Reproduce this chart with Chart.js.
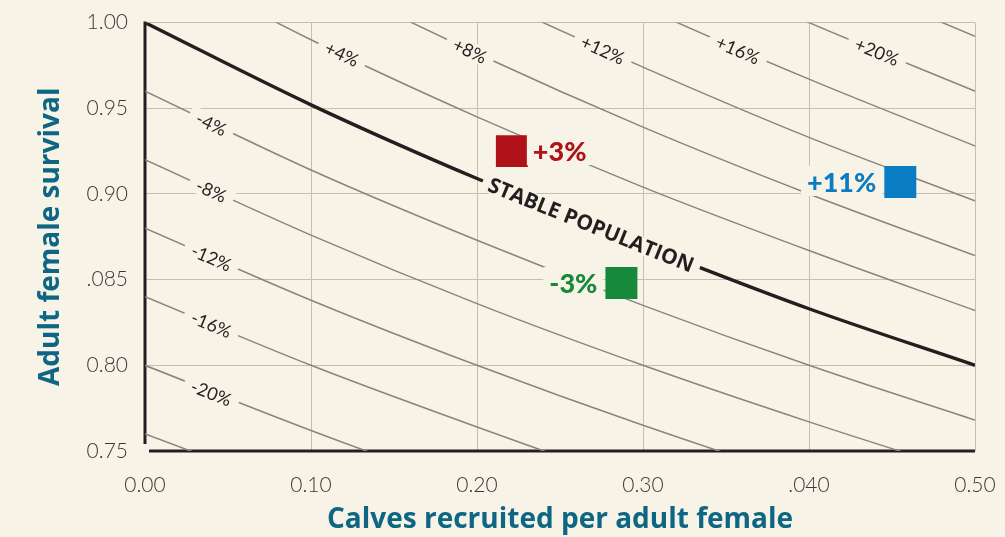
<!DOCTYPE html>
<html><head><meta charset="utf-8">
<script src="https://cdn.jsdelivr.net/npm/chart.js@4.4.0/dist/chart.umd.min.js"></script>
<style>html,body{margin:0;padding:0;background:#f8f3e7;}#wrap{width:1005px;height:537px;position:relative;}</style>
</head><body><div id="wrap"><canvas id="c" width="1005" height="537"></canvas></div>
<script>
// ---- data ----
const recruitment = [0, 0.1, 0.2, 0.3, 0.4, 0.5];
const xTickLabels = ['0.00', '0.10', '0.20', '0.30', '.040', '0.50'];
const yTickLabels = ['0.75', '0.80', '.085', '0.90', '0.95', '1.00'];

const stableSurvival = [1.000, 0.952, 0.909, 0.870, 0.833, 0.800];

const growthMinus24 = [0.760, 0.724, 0.691, 0.661, 0.633, 0.608];
const growthMinus20 = [0.800, 0.762, 0.727, 0.696, 0.667, 0.640];
const growthMinus16 = [0.840, 0.800, 0.764, 0.730, 0.700, 0.672];
const growthMinus12 = [0.880, 0.838, 0.800, 0.765, 0.733, 0.704];
const growthMinus8  = [0.920, 0.876, 0.836, 0.800, 0.767, 0.736];
const growthMinus4  = [0.960, 0.914, 0.873, 0.835, 0.800, 0.768];
const growthPlus4   = [1.040, 0.990, 0.945, 0.904, 0.867, 0.832];
const growthPlus8   = [1.080, 1.029, 0.982, 0.939, 0.900, 0.864];
const growthPlus12  = [1.120, 1.067, 1.018, 0.974, 0.933, 0.896];
const growthPlus16  = [1.160, 1.105, 1.055, 1.009, 0.967, 0.928];
const growthPlus20  = [1.200, 1.143, 1.091, 1.043, 1.000, 0.960];
const growthPlus24  = [1.240, 1.181, 1.127, 1.078, 1.033, 0.992];

const contourNames = ['-24%', '-20%', '-16%', '-12%', '-8%', '-4%', '+4%', '+8%', '+12%', '+16%', '+20%', '+24%'];
const contourValues = [growthMinus24, growthMinus20, growthMinus16, growthMinus12, growthMinus8, growthMinus4,
  growthPlus4, growthPlus8, growthPlus12, growthPlus16, growthPlus20, growthPlus24];

const contourLabelText = ['-4%', '-8%', '-12%', '-16%', '-20%', '+4%', '+8%', '+12%', '+16%', '+20%'];
const contourLabelR = [0.040, 0.040, 0.040, 0.040, 0.040, 0.1187, 0.1958, 0.2759, 0.3572, 0.441];
const contourLabelS = [0.941, 0.902, 0.863, 0.824, 0.784, 0.9818, 0.9837, 0.9842, 0.9842, 0.9832];

const stableLabelText = 'STABLE POPULATION';
const stableLabelR = 0.2687;
const stableLabelS = 0.8818;

const herdText = ['+3%', '-3%', '+11%'];
const herdR = [0.221, 0.287, 0.455];
const herdS = [0.925, 0.848, 0.907];
const herdColors = ['#b0121a', '#168a3a', '#0a7cc4'];
const herdLabelSide = ['right', 'left', 'left'];

// ---- chart ----
const BG = '#f8f3e7';
const INK = '#231f20';
const GRID = '#c3bfb2';
const toPts = arr => recruitment.map((r, i) => ({x: r, y: arr[i]}));

const datasets = [];
contourValues.forEach((vals, i) => {
  datasets.push({
    label: contourNames[i], data: toPts(vals), showLine: true,
    borderColor: '#878580', borderWidth: 1.5, pointRadius: 0,
    cubicInterpolationMode: 'monotone', order: 3
  });
});
datasets.push({
  label: 'stable', data: toPts(stableSurvival), showLine: true,
  borderColor: INK, borderWidth: 3.4, pointRadius: 0,
  cubicInterpolationMode: 'monotone', order: 2
});
datasets.push({
  label: 'herds', data: herdR.map((r, i) => ({x: r, y: herdS[i]})), showLine: false,
  pointStyle: 'rect', pointRadius: 22.6, pointHoverRadius: 22.6,
  backgroundColor: herdColors, borderWidth: 0, order: 1
});

function drawAlong(ctx, chart, dsLabel, R, S, text, font, pad, color) {
  const xs = chart.scales.x, ys = chart.scales.y;
  const px = xs.getPixelForValue(R), py = ys.getPixelForValue(S);
  const idx = chart.data.datasets.findIndex(d => d.label === dsLabel);
  const pts = chart.getDatasetMeta(idx).data;
  let a = 0;
  for (let i = 0; i < pts.length - 1; i++) {
    if (pts[i].x <= px && pts[i + 1].x >= px) {
      a = Math.atan2(pts[i + 1].y - pts[i].y, pts[i + 1].x - pts[i].x);
      break;
    }
  }
  ctx.save();
  ctx.translate(px, py);
  ctx.rotate(a);
  ctx.font = font;
  const w = ctx.measureText(text).width;
  ctx.fillStyle = BG;
  ctx.fillRect(-w / 2 - pad, -9, w + 2 * pad, 18);
  ctx.fillStyle = color;
  ctx.textAlign = 'center';
  ctx.textBaseline = 'middle';
  ctx.fillText(text, 0, 1);
  ctx.restore();
}

const noPad = s => { s.paddingTop = 0; s.paddingBottom = 0; s.paddingLeft = 0; s.paddingRight = 0; };

const labelPlugin = {
  id: 'labelPlugin',
  beforeDraw(chart) {
    const ctx = chart.ctx;
    ctx.save();
    ctx.fillStyle = BG;
    ctx.fillRect(0, 0, chart.width, chart.height);
    ctx.restore();
  },
  beforeDatasetsDraw(chart) {
    const ctx = chart.ctx, a = chart.chartArea;
    ctx.save();
    ctx.strokeStyle = INK;
    ctx.lineWidth = 3;
    ctx.beginPath();
    ctx.moveTo(a.left, a.top - 1);
    ctx.lineTo(a.left, a.bottom - 7);
    ctx.moveTo(a.left + 4, a.bottom);
    ctx.lineTo(a.right, a.bottom);
    ctx.stroke();
    ctx.restore();
  },
  afterDatasetsDraw(chart) {
    const ctx = chart.ctx;
    const area = chart.chartArea;
    ctx.save();
    ctx.beginPath();
    ctx.rect(area.left, area.top, area.right - area.left, area.bottom - area.top);
    ctx.clip();
    contourLabelText.forEach((t, i) => {
      drawAlong(ctx, chart, t, contourLabelR[i], contourLabelS[i], t, '18px Lato', 8, INK);
    });
    drawAlong(ctx, chart, 'stable', stableLabelR, stableLabelS, stableLabelText, 'bold 21px "Open Sans"', 7, INK);
    const xs = chart.scales.x, ys = chart.scales.y;
    herdText.forEach((t, i) => {
      const px = xs.getPixelForValue(herdR[i]), py = ys.getPixelForValue(herdS[i]);
      ctx.font = '900 27px Lato';
      const w = ctx.measureText(t).width;
      const half = 16;
      let left;
      if (herdLabelSide[i] === 'right') left = px + half + 5;
      else left = px - half - 8 - w;
      ctx.fillStyle = BG;
      ctx.fillRect(left - 6, py - 16, w + 12, 30);
      ctx.fillStyle = herdColors[i];
      ctx.textAlign = 'left';
      ctx.textBaseline = 'middle';
      ctx.fillText(t, left, py + 1);
    });
    ctx.restore();
  }
};

new Chart(document.getElementById('c'), {
  type: 'scatter',
  data: {datasets},
  plugins: [labelPlugin],
  options: {
    responsive: false,
    animation: false,
    events: [],
    layout: {padding: {top: 19, right: 30, left: 0, bottom: 0}},
    plugins: {legend: {display: false}, tooltip: {enabled: false}},
    scales: {
      x: {
        type: 'linear', min: 0, max: 0.5,
        afterFit: s => { s.height = 86; noPad(s); },
        grid: {color: c => (c.tick && c.tick.value === 0 ? 'rgba(0,0,0,0)' : GRID), lineWidth: 1, drawTicks: false},
        border: {display: false},
        ticks: {stepSize: 0.1, padding: 22, color: '#3a3838', font: {family: 'Lato', size: 21, weight: '300'},
          callback: (v, i) => xTickLabels[i]},
        title: {display: true, text: 'Calves recruited per adult female', color: '#0d6784',
          font: {family: 'Open Sans', size: 28, weight: 'bold'}, padding: {top: 0, bottom: 0}}
      },
      y: {
        type: 'linear', min: 0.75, max: 1.0,
        afterFit: s => { s.width = 145; noPad(s); },
        grid: {color: c => (c.tick && c.tick.value === 0.75 ? 'rgba(0,0,0,0)' : GRID), lineWidth: 1, drawTicks: false},
        border: {display: false},
        ticks: {stepSize: 0.05, padding: 17, color: '#3a3838', font: {family: 'Lato', size: 21, weight: '300'},
          callback: (v, i) => yTickLabels[i]},
        title: {display: true, text: 'Adult female survival', color: '#0d6784',
          font: {family: 'Open Sans', size: 28, weight: 'bold'}, padding: {top: 34, bottom: 0}}
      }
    }
  }
});
</script>
</body></html>
